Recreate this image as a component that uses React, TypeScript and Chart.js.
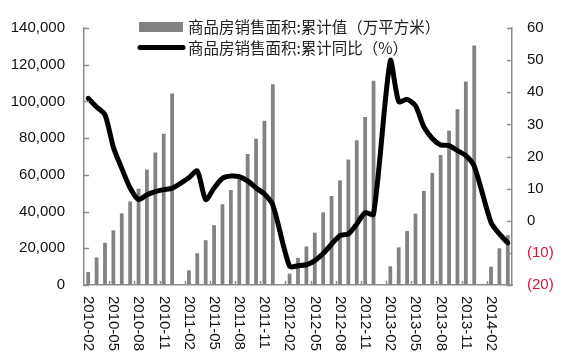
import React, { useEffect, useRef } from "react";
import { Chart, registerables } from "chart.js";

Chart.register(...registerables);

// Categories (monthly; January has no separate figure)
const months2010 = ["2010-02", "2010-03", "2010-04", "2010-05", "2010-06", "2010-07", "2010-08", "2010-09", "2010-10", "2010-11", "2010-12"];
const months2011 = ["2011-01", "2011-02", "2011-03", "2011-04", "2011-05", "2011-06", "2011-07", "2011-08", "2011-09", "2011-10", "2011-11", "2011-12"];
const months2012 = ["2012-01", "2012-02", "2012-03", "2012-04", "2012-05", "2012-06", "2012-07", "2012-08", "2012-09", "2012-10", "2012-11", "2012-12"];
const months2013 = ["2013-01", "2013-02", "2013-03", "2013-04", "2013-05", "2013-06", "2013-07", "2013-08", "2013-09", "2013-10", "2013-11", "2013-12"];
const months2014 = ["2014-01", "2014-02", "2014-03", "2014-04"];
const categories = [...months2010, ...months2011, ...months2012, ...months2013, ...months2014];

// 商品房销售面积:累计值（万平方米）
const area2010 = [7100, 15000, 23000, 29800, 39000, 45500, 52400, 62900, 72200, 82400, 104300];
const area2011 = [null, 8000, 17300, 24400, 32600, 44000, 51700, 57600, 71300, 79700, 89500, 109400];
const area2012 = [null, 6200, 14800, 21000, 28500, 39600, 48500, 57000, 68300, 78800, 91500, 111300];
const area2013 = [null, 10200, 20500, 29400, 38900, 51200, 61000, 70800, 84100, 95700, 110900, 130500];
const area2014 = [null, 10000, 20000, 27100];
const areaValues = [...area2010, ...area2011, ...area2012, ...area2013, ...area2014];

// 商品房销售面积:累计同比（%）
const yoy2010 = [38.1, 35.4, 33.0, 22.9, 16.3, 10.2, 6.6, 8.1, 9.1, 9.7, 10.1];
const yoy2011 = [null, 13.4, 15.5, 6.6, 10.2, 13.2, 13.9, 13.7, 12.4, 10.2, 8.3, 4.9];
const yoy2012 = [null, -14.2, -14.0, -13.7, -12.4, -10.2, -7.3, -4.6, -4.1, -1.0, 2.5, 2.0];
const yoy2013 = [null, 49.8, 37.1, 37.8, 35.8, 29.2, 25.6, 23.6, 23.4, 21.8, 20.3, 17.0];
const yoy2014 = [null, -0.5, -4.1, -6.9];
const yoyValues = [...yoy2010, ...yoy2011, ...yoy2012, ...yoy2013, ...yoy2014];

const barLabel = "商品房销售面积:累计值（万平方米）";
const lineLabel = "商品房销售面积:累计同比（%）";

const AXIS_COLOR = "#8c8c8c";
const BAR_COLOR = "#828282";
const TEXT_COLOR = "#111111";
const NEG_COLOR = "#dc143c";
const FONT = "'Liberation Sans', Arial, sans-serif";
const CJK_FONT = "'Noto Sans CJK SC', sans-serif";

const overlayPlugin = {
  id: "overlay",
  afterDraw(chart: any) {
    const { ctx, chartArea, scales } = chart;
    const x = scales.x;
    const yL = scales.y;
    const yR = scales.y1;
    ctx.save();
    ctx.strokeStyle = AXIS_COLOR;
    ctx.lineWidth = 1.5;
    // inward tick marks on y axes
    yL.ticks.forEach((t: any) => {
      const py = Math.round(yL.getPixelForValue(t.value)) + 0.5;
      ctx.beginPath();
      ctx.moveTo(chartArea.left, py);
      ctx.lineTo(chartArea.left + 5, py);
      ctx.stroke();
    });
    yR.ticks.forEach((t: any) => {
      const py = Math.round(yR.getPixelForValue(t.value)) + 0.5;
      ctx.beginPath();
      ctx.moveTo(chartArea.right, py);
      ctx.lineTo(chartArea.right - 5, py);
      ctx.stroke();
    });
    // x tick marks between categories, every 3 months
    const slot = (chartArea.right - chartArea.left) / categories.length;
    for (let i = 3; i < categories.length; i += 3) {
      const px = Math.round(x.getPixelForValue(i) - slot / 2) + 0.5;
      ctx.beginPath();
      ctx.moveTo(px, chartArea.bottom);
      ctx.lineTo(px, chartArea.bottom - 4);
      ctx.stroke();
    }
    // x labels, rotated clockwise
    ctx.fillStyle = TEXT_COLOR;
    ctx.font = `15px ${FONT}`;
    ctx.textAlign = "left";
    ctx.textBaseline = "middle";
    for (let i = 0; i < categories.length; i += 3) {
      const px = x.getPixelForValue(i);
      ctx.save();
      ctx.translate(px, chartArea.bottom + 11);
      ctx.rotate(Math.PI / 2);
      ctx.fillText(categories[i], 0, 0);
      ctx.restore();
    }
    // legend
    ctx.fillStyle = BAR_COLOR;
    ctx.fillRect(139, 22, 44, 10);
    ctx.strokeStyle = "#000";
    ctx.lineWidth = 5;
    ctx.lineCap = "round";
    ctx.beginPath();
    ctx.moveTo(140, 47.5);
    ctx.lineTo(183, 47.5);
    ctx.stroke();
    ctx.fillStyle = "#222";
    ctx.font = `15.5px ${CJK_FONT}`;
    ctx.textAlign = "left";
    ctx.textBaseline = "middle";
    ctx.fillText(barLabel, 188, 27);
    ctx.fillText(lineLabel, 188, 48);
    ctx.restore();
  },
};

export default function App() {
  const canvasRef = useRef<HTMLCanvasElement | null>(null);

  useEffect(() => {
    if (!canvasRef.current) return;
    Chart.defaults.font.family = FONT;
    Chart.defaults.font.size = 15;
    const chart = new Chart(canvasRef.current, {
      type: "bar",
      data: {
        labels: categories,
        datasets: [
          {
            type: "line",
            label: lineLabel,
            data: yoyValues,
            yAxisID: "y1",
            borderColor: "#000",
            borderWidth: 5,
            pointRadius: 0,
            tension: 0.25,
            spanGaps: true,
            borderJoinStyle: "round",
            borderCapStyle: "round",
            order: 0,
          } as any,
          {
            type: "bar",
            label: barLabel,
            data: areaValues,
            yAxisID: "y",
            backgroundColor: BAR_COLOR,
            categoryPercentage: 1,
            barPercentage: 0.45,
            order: 1,
          } as any,
        ],
      },
      options: {
        animation: false,
        responsive: true,
        maintainAspectRatio: false,
        layout: { padding: { top: 23, left: 0, right: 0, bottom: 0 } },
        plugins: { legend: { display: false }, tooltip: { enabled: false } },
        scales: {
          x: {
            offset: true,
            grid: { display: false },
            border: { display: true, color: AXIS_COLOR, width: 1.5 },
            ticks: { display: false, autoSkip: false },
            afterFit: (s: any) => {
              s.height = 78;
            },
          },
          y: {
            position: "left",
            min: 0,
            max: 140000,
            grid: { display: false, drawTicks: false },
            border: { display: true, color: AXIS_COLOR, width: 1.5 },
            ticks: {
              stepSize: 20000,
              padding: 19,
              color: TEXT_COLOR,
              font: { size: 15 },
              callback: (v: any) => Number(v).toLocaleString("en-US"),
            },
            afterFit: (s: any) => {
              s.width = 84;
            },
          },
          y1: {
            position: "right",
            min: -20,
            max: 60,
            grid: { display: false, drawTicks: false },
            border: { display: true, color: AXIS_COLOR, width: 1.5 },
            ticks: {
              stepSize: 10,
              padding: 15,
              font: { size: 15 },
              color: (c: any) => (c.tick && c.tick.value < 0 ? NEG_COLOR : TEXT_COLOR),
              callback: (v: any) => (Number(v) < 0 ? `(${-Number(v)})` : `${v}`),
            },
            afterFit: (s: any) => {
              s.width = 51;
            },
          },
        },
      },
      plugins: [overlayPlugin],
    });
    return () => chart.destroy();
  }, []);

  return (
    <div style={{ position: "absolute", left: 0, top: 0, width: 563, height: 363 }}>
      <canvas ref={canvasRef} />
    </div>
  );
}
